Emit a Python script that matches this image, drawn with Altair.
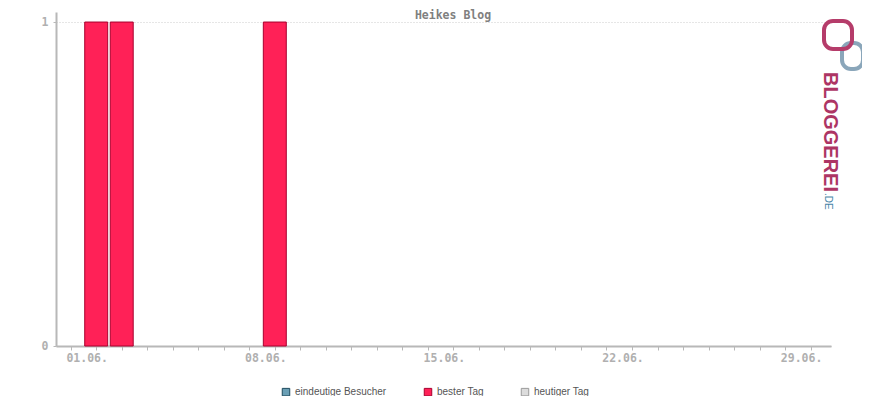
import altair as alt
import pandas as pd

# ---- data ----
days = list(range(1, 31))
day_labels = [f"{d:02d}.06." for d in days]
bar_days = [2, 3, 9]
bar_values = [1, 1, 1]
series = ["eindeutige Besucher", "bester Tag", "heutiger Tag"]
fills = ["#6a9fb5", "#ff2157", "#dcdcdc"]
strokes = ["#1f4b5e", "#a8002e", "#9a9a9a"]
label_days = [1, 8, 15, 22, 29]

bars = pd.DataFrame({
    "day": bar_days,
    "x0": [d - 0.45 for d in bar_days],
    "x1": [d + 0.45 for d in bar_days],
    "value": bar_values,
    "base": [0] * len(bar_days),
    "series": ["bester Tag"] * len(bar_days),
})

label_map = {d: day_labels[d - 1] for d in label_days}
label_expr = " : ".join(
    [f"datum.value == {d} ? '{lab}'" for d, lab in label_map.items()]
) + " : ''"

mono = "DejaVu Sans Mono"

x_scale = alt.Scale(domain=[0.424, 30.8], nice=False, zero=False)
y_scale = alt.Scale(domain=[0, 1.031], nice=False)

legend_cfg = dict(title=None, orient="none", direction="horizontal",
                  legendX=225, legendY=375, symbolType="square",
                  symbolSize=56, symbolStrokeWidth=1,
                  labelFont="Liberation Sans", labelFontSize=10,
                  labelColor="#555555", columnPadding=35,
                  labelOffset=4, padding=0)

bar_layer = alt.Chart(bars).mark_bar(strokeWidth=1).encode(
    x=alt.X("x0:Q", scale=x_scale,
            axis=alt.Axis(values=days, labelExpr=label_expr, title=None,
                          grid=False, domainColor="#b8b8b8", domainWidth=2,
                          tickColor="#b8b8b8", tickSize=4, tickWidth=1,
                          labelColor="#b0b0b0", labelFont=mono, labelFontSize=11.5,
                          labelFontWeight="bold", labelOffset=16, labelPadding=2,
                          labelFlush=False, labelOverlap=False)),
    x2="x1:Q",
    y=alt.Y("value:Q", scale=y_scale,
            axis=alt.Axis(values=[0, 1], format="d", title=None, grid=True,
                          gridColor="#cccccc", gridDash=[1, 2], gridWidth=1,
                          domainColor="#b8b8b8", domainWidth=2,
                          tickColor="#b8b8b8", tickSize=3,
                          labelColor="#b0b0b0", labelFont=mono, labelFontSize=11.5,
                          labelFontWeight="bold", labelPadding=5)),
    y2="base:Q",
    fill=alt.Fill("series:N", scale=alt.Scale(domain=series, range=fills),
                  legend=alt.Legend(**legend_cfg)),
    stroke=alt.Stroke("series:N", scale=alt.Scale(domain=series, range=strokes),
                      legend=alt.Legend(**legend_cfg)),
)

title_layer = alt.Chart(pd.DataFrame({"t": ["Heikes Blog"]})).mark_text(
    font=mono, fontSize=11.5, fontWeight="bold", color="#808080", baseline="top"
).encode(text="t:N", x=alt.value(397), y=alt.value(-2))

logo_text = alt.Chart(pd.DataFrame({"t": ["BLOGGEREI"]})).mark_text(
    font="Liberation Sans", fontSize=20, fontWeight="bold", color="#ad3564",
    angle=90, align="left", baseline="middle"
).encode(text="t:N", x=alt.value(774), y=alt.value(60))

logo_de = alt.Chart(pd.DataFrame({"t": [".DE"]})).mark_text(
    font="Liberation Sans", fontSize=10, color="#4a86a8",
    angle=90, align="left", baseline="middle"
).encode(text="t:N", x=alt.value(772), y=alt.value(181))

logo_a = alt.Chart(pd.DataFrame({"k": [1]})).mark_rect(
    filled=False, stroke="#b53c6a", strokeWidth=4, cornerRadius=9
).encode(x=alt.value(768), x2=alt.value(796), y=alt.value(9), y2=alt.value(37))

logo_b = alt.Chart(pd.DataFrame({"k": [1]})).mark_rect(
    filled=False, stroke="#8aa6ba", strokeWidth=4, cornerRadius=9
).encode(x=alt.value(786), x2=alt.value(807), y=alt.value(31), y2=alt.value(57))

chart = alt.layer(bar_layer, title_layer, logo_b, logo_a, logo_text, logo_de).properties(
    width=775, height=334, autosize=alt.AutoSizeParams(type="none"),
    padding={"left": 48, "top": 4, "right": 31, "bottom": 50},
).configure_view(stroke=None)

chart.save("out.html", embed_options={"renderer": "svg", "actions": False})
